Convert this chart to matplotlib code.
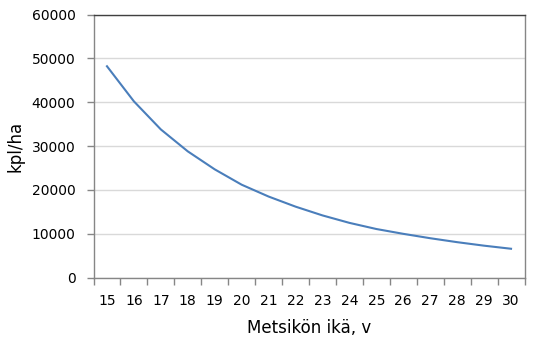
import matplotlib
matplotlib.use("Agg")
import matplotlib.pyplot as plt
import numpy as np

ages = [15, 16, 17, 18, 19, 20, 21, 22, 23, 24, 25, 26, 27, 28, 29, 30]
kpl_ha = [48200, 40200, 33800, 28800, 24700, 21200, 18500, 16200, 14200,
          12500, 11100, 10000, 9000, 8100, 7300, 6600]
yticks = [0, 10000, 20000, 30000, 40000, 50000, 60000]

plt.rcParams['font.family'] = ['DejaVu Sans']

W, H = 533, 348
fig = plt.figure(figsize=(W / 100, H / 100), dpi=100)
ax = fig.add_axes([93.5 / W, (H - 277.7) / H, (524.5 - 93.5) / W, (277.7 - 14.5) / H])

x = np.arange(len(ages))
ax.plot(x, kpl_ha, color='#4a7ebb', lw=1.5)

ax.set_xlim(-0.5, len(ages) - 0.5)
ax.set_ylim(0, 60000)
ax.set_yticks(yticks)
ax.set_yticklabels([str(v) for v in yticks], fontsize=10)
ax.set_xticks(x)
ax.set_xticklabels([str(a) for a in ages], fontsize=10)
ax.set_xticks(np.arange(-0.5, len(ages), 1.0), minor=True)
ax.tick_params(axis='x', which='major', length=0, pad=12)
ax.tick_params(axis='x', which='minor', length=5, color='#868686', width=1)
ax.tick_params(axis='y', length=5, color='#868686', width=1, pad=8)

ax.grid(axis='y', color='#d9d9d9', lw=1)
ax.set_axisbelow(True)
for s in ['left', 'bottom', 'right']:
    ax.spines[s].set_color('#868686')
    ax.spines[s].set_linewidth(1)
ax.spines['top'].set_color('#404040')
ax.spines['top'].set_linewidth(1)

ax.set_xlabel('Metsikön ikä, v', fontsize=12, labelpad=8)
ax.set_ylabel('kpl/ha', fontsize=12, labelpad=5)

fig.savefig('out.png', dpi=100)
